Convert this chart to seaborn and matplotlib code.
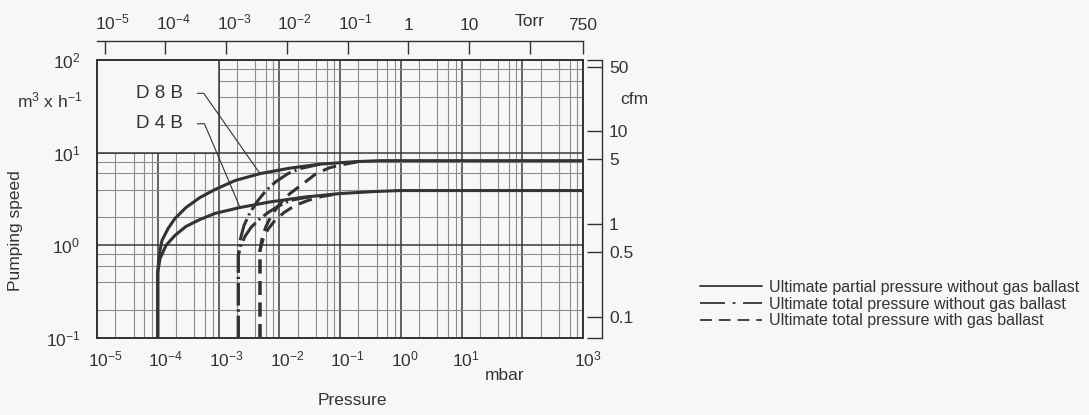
import seaborn as sns
import matplotlib.pyplot as plt
from matplotlib import ticker, transforms
from matplotlib.lines import Line2D
from matplotlib.patches import Rectangle

# pressure in mbar, pumping speed in m3/h
# ultimate partial pressure without gas ballast
d8b_p = [1e-4, 1e-4, 1.05e-4, 1.175e-4, 1.48e-4, 1.92e-4, 2.92e-4, 4.95e-4, 8.75e-4,
         1.87e-3, 4.82e-3, 1.5e-2, 4.7e-2, 0.177, 0.455, 1000]
d8b_s = [0.1, 0.51, 0.78, 1.13, 1.52, 1.95, 2.56, 3.28, 4.0, 5.0, 5.94, 6.81, 7.52, 8.0, 8.2, 8.2]
d4b_p = [1e-4, 1e-4, 1.09e-4, 1.37e-4, 1.92e-4, 2.92e-4, 4.95e-4, 8.75e-4, 2.26e-3,
         7.05e-3, 2.65e-2, 0.1, 0.377, 0.97, 1000]
d4b_s = [0.1, 0.51, 0.72, 1.0, 1.28, 1.60, 1.90, 2.21, 2.56, 2.94, 3.32, 3.62, 3.81, 3.90, 3.90]

# ultimate total pressure without gas ballast
d8b_tot_p = [2.12e-3, 2.12e-3, 2.26e-3, 2.63e-3, 3.30e-3, 4.47e-3, 6.05e-3, 8.85e-3, 1.39e-2, 2.2e-2, 4.7e-2]
d8b_tot_s = [0.1, 0.78, 1.13, 1.64, 2.26, 3.05, 3.90, 4.88, 5.94, 6.73, 7.52]
d4b_tot_p = [2.12e-3, 2.12e-3, 2.34e-3, 2.73e-3, 3.43e-3, 4.65e-3, 6.53e-3, 9.52e-3, 1.5e-2, 3.2e-2]
d4b_tot_s = [0.1, 0.78, 1.0, 1.25, 1.56, 1.90, 2.26, 2.63, 3.05, 3.35]

# ultimate total pressure with gas ballast
d8b_gb_p = [4.82e-3, 4.82e-3, 5.2e-3, 6.05e-3, 7.6e-3, 1.03e-2, 1.5e-2, 2.37e-2, 4.03e-2, 6.84e-2, 0.121, 0.213]
d8b_gb_s = [0.1, 0.88, 1.19, 1.60, 2.15, 2.83, 3.62, 4.53, 5.94, 6.90, 7.52, 8.05]
d4b_gb_p = [4.82e-3, 4.82e-3, 5.41e-3, 6.53e-3, 8.51e-3, 1.2e-2, 1.81e-2, 2.97e-2, 5.06e-2, 0.1]
d4b_gb_s = [0.1, 0.88, 1.16, 1.49, 1.86, 2.26, 2.69, 3.05, 3.37, 3.62]

mbar_ticks = [1e-5, 1e-4, 1e-3, 1e-2, 1e-1, 1, 10, 100, 1000]
mbar_labels = ["$10^{-5}$", "$10^{-4}$", "$10^{-3}$", "$10^{-2}$", "$10^{-1}$",
               "$10^{0}$", "$10^{1}$", "", "$10^{3}$"]
speed_ticks = [0.1, 1, 10, 100]
speed_labels = ["$10^{-1}$", "$10^{0}$", "$10^{1}$", "$10^{2}$"]
torr_ticks = [1e-5, 1e-4, 1e-3, 1e-2, 1e-1, 1, 10, 100, 750]
torr_labels = ["$10^{-5}$", "$10^{-4}$", "$10^{-3}$", "$10^{-2}$", "$10^{-1}$",
               "1", "10", "", "750"]
cfm_ticks = [100 * 0.588578, 50, 10, 5, 1, 0.5, 0.1, 0.1 * 0.588578]
cfm_labels = ["", "50", "10", "5", "1", "0.5", "0.1", ""]

legend_labels = ["Ultimate partial pressure without gas ballast",
                 "Ultimate total pressure without gas ballast",
                 "Ultimate total pressure with gas ballast"]

MBAR_PER_TORR = 1.33322
CFM_PER_M3H = 0.588578

bg = "#f7f7f7"
ink = "#333333"
major_c = "#3a3a3a"
minor_c = "#8c8c8c"
dashdot = (0, (16, 3, 1.5, 3))
dashed = (0, (10, 5.5))

sns.set_style("white")
plt.rcParams["font.family"] = ["Liberation Sans", "DejaVu Sans"]
plt.rcParams["mathtext.fontset"] = "custom"
plt.rcParams["mathtext.rm"] = "Liberation Sans"
plt.rcParams["mathtext.it"] = "Liberation Sans:italic"
plt.rcParams["mathtext.default"] = "regular"
plt.rcParams["lines.scale_dashes"] = False
plt.rcParams["text.color"] = ink
plt.rcParams["axes.axisbelow"] = True

fig = plt.figure(figsize=(10.89, 4.15), dpi=100, facecolor=bg)
ax = fig.add_axes([97 / 1089, 1 - 338 / 415, 486 / 1089, 278 / 415], facecolor=bg)
ax.set_xscale("log")
ax.set_yscale("log")

# curves
for xs, ys, ls in [(d8b_p, d8b_s, "-"), (d4b_p, d4b_s, "-"),
                   (d8b_tot_p, d8b_tot_s, dashdot), (d4b_tot_p, d4b_tot_s, dashdot),
                   (d8b_gb_p, d8b_gb_s, dashed), (d4b_gb_p, d4b_gb_s, dashed)]:
    sns.lineplot(x=xs, y=ys, ax=ax, estimator=None, sort=False, color=ink,
                 lw=2.2, linestyle=ls, zorder=3)
ax.set_xlabel("")
ax.set_ylabel("")
ax.set_xlim(1e-5, 1e3)
ax.set_ylim(0.1, 100)

# grid: decades dark, 2-4-6-8 light
ax.set_xticks(mbar_ticks, labels=mbar_labels)
ax.set_yticks(speed_ticks, labels=speed_labels)
ax.xaxis.set_minor_locator(ticker.FixedLocator(
    [m * 10.0 ** e for e in range(-5, 3) for m in (2, 4, 6, 8)]))
ax.yaxis.set_minor_locator(ticker.FixedLocator(
    [m * 10.0 ** e for e in range(-1, 2) for m in (2, 4, 6, 8)]))
ax.xaxis.set_minor_formatter(ticker.NullFormatter())
ax.yaxis.set_minor_formatter(ticker.NullFormatter())
ax.grid(True, which="major", color=major_c, lw=1.1)
ax.grid(True, which="minor", color=minor_c, lw=0.8)
for s in ax.spines.values():
    s.set_color(ink)
    s.set_linewidth(1.4)

# blank box in the upper-left corner
ax.add_patch(Rectangle((1e-5, 10), 1e-3 - 1e-5, 90, facecolor=bg,
                       edgecolor=major_c, lw=1.1, zorder=1))

ax.tick_params(which="both", length=0, labelsize=12.5, colors=ink)
ax.tick_params(axis="x", pad=8)
ax.tick_params(axis="y", pad=12)

shift = transforms.ScaledTranslation(-0.095, 0, fig.dpi_scale_trans)
for lab in ax.get_xticklabels():
    if "^" in lab.get_text():
        lab.set_horizontalalignment("left")
        lab.set_transform(lab.get_transform() + shift)

# model labels with leaders
ax.annotate("D 8 B", xy=(d8b_p[10], d8b_s[10]), xytext=(2.6e-4, 43.7),
            ha="right", va="center", fontsize=13.5, color=ink,
            arrowprops=dict(arrowstyle="-", color=ink, lw=0.8, relpos=(1, 0.5),
                            shrinkA=8, shrinkB=0,
                            connectionstyle="angle,angleA=0,angleB=-55,rad=0"))
ax.annotate("D 4 B", xy=(d4b_p[8], d4b_s[8]), xytext=(2.6e-4, 20.5),
            ha="right", va="center", fontsize=13.5, color=ink,
            arrowprops=dict(arrowstyle="-", color=ink, lw=0.8, relpos=(1, 0.5),
                            shrinkA=8, shrinkB=0,
                            connectionstyle="angle,angleA=0,angleB=-67,rad=0"))

# Torr scale on top
top = ax.secondary_xaxis(1 + 19 / 278, functions=(lambda p: p / MBAR_PER_TORR,
                                                   lambda t: t * MBAR_PER_TORR))
top.set_ticks(torr_ticks, labels=torr_labels)
top.tick_params(which="major", direction="in", length=9.6, width=1.0, pad=6,
                labelsize=12.5, color=ink, labelcolor=ink)
top.tick_params(which="minor", length=0)
top.spines["top"].set_color(ink)
top.spines["top"].set_linewidth(1.0)
for lab in top.get_xticklabels():
    if "^" in lab.get_text():
        lab.set_horizontalalignment("left")
        lab.set_transform(lab.get_transform() + shift)
ax.text(100 * MBAR_PER_TORR, 1.14, "Torr", transform=ax.get_xaxis_transform(),
        ha="center", va="center", fontsize=12.5)

# cfm scale on the right
right = ax.secondary_yaxis(1 + 19 / 486, functions=(lambda q: q * CFM_PER_M3H,
                                                     lambda c: c / CFM_PER_M3H))
right.set_ticks(cfm_ticks, labels=cfm_labels)
right.tick_params(which="major", direction="in", length=10.5, width=1.0, pad=5,
                  labelsize=12.5, color=ink, labelcolor=ink)
right.tick_params(which="minor", length=0)
right.spines["right"].set_color(ink)
right.spines["right"].set_linewidth(1.0)

# units and axis titles
fig.text(82 / 1089, 1 - 100 / 415, "m$^3$ x h$^{-1}$", ha="right", va="center", fontsize=12.5)
fig.text(620 / 1089, 1 - 100 / 415, "cfm", ha="left", va="center", fontsize=12.5)
fig.text(505 / 1089, 1 - 375 / 415, "mbar", ha="center", va="center", fontsize=12.5)
fig.text(352 / 1089, 1 - 400 / 415, "Pressure", ha="center", va="center", fontsize=12.5)
fig.text(15.5 / 1089, 1 - 231 / 415, "Pumping speed", ha="center", va="center",
         rotation=90, fontsize=12.5)

handles = [Line2D([], [], color=ink, lw=1.3, linestyle="-"),
           Line2D([], [], color=ink, lw=1.3, linestyle=(0, (18, 5.5, 2, 5.5))),
           Line2D([], [], color=ink, lw=1.3, linestyle=(0, (8.5, 5)))]
fig.legend(handles, legend_labels, loc="center left",
           bbox_to_anchor=(700 / 1089, 1 - 304 / 415), frameon=False,
           fontsize=11.5, handlelength=3.9, handletextpad=0.45,
           labelspacing=0.1, borderpad=0, borderaxespad=0)

fig.savefig("out.png", dpi=100, facecolor=bg)
